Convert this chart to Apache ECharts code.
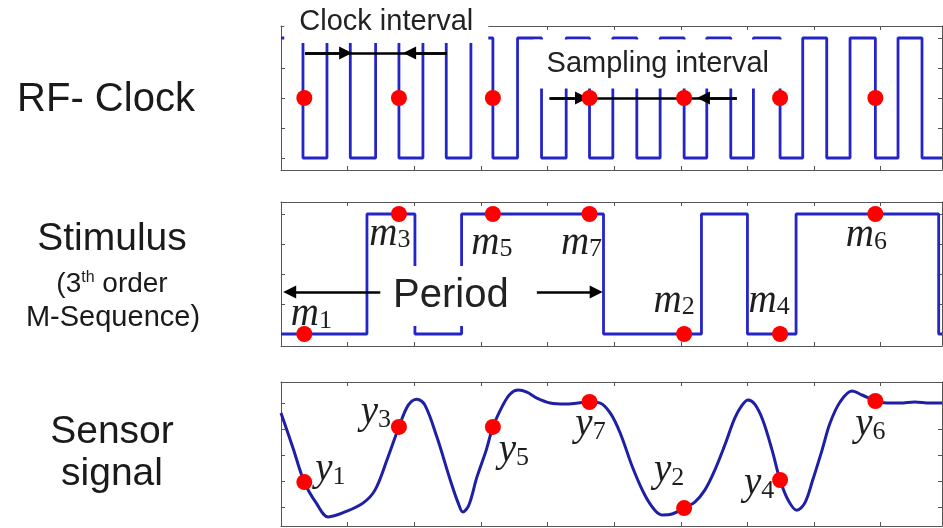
<!DOCTYPE html>
<html lang="en">
<head>
<meta charset="UTF-8">
<title></title>
<script src="https://cdn.jsdelivr.net/npm/echarts@6/dist/echarts.min.js"></script>
<style>
  body { margin: 0; background: #fff; }
  #chart { width: 943px; height: 528px; }
</style>
</head>
<body>
<div id="chart"></div>
<script>
// RF clock: x of each level change, and the level that starts there
var clockX = [0, 0.33, 0.69, 1.04, 1.42, 1.77, 2.13, 2.48, 2.85, 3.18, 3.55, 3.91, 4.28, 4.63, 4.98, 5.34, 5.69, 6.05, 6.39, 6.75, 7.09, 7.49, 7.83, 8.19, 8.54, 8.92, 9.26, 9.62, 9.92];
var clockY = [4, 0, 4, 0, 4, 0, 4, 0, 4, 0, 4, 0, 4, 0, 4, 0, 4, 0, 4, 0, 4, 0, 4, 0, 4, 0, 4, 0, 0];

// stimulus (3rd order m-sequence)
var stimX = [0, 1.29, 2.01, 2.71, 4.84, 6.31, 7.0, 7.73, 9.87, 9.92];
var stimY = [0, 4, 0, 4, 0, 4, 0, 4, 0, 0];

// sensor response
var sensorX = [0, 0.18, 0.35, 0.53, 0.71, 0.96, 1.23, 1.41, 1.59, 1.77, 1.91, 2.04, 2.16, 2.34, 2.54, 2.66, 2.73, 2.82, 2.94, 3.08, 3.18, 3.33, 3.44, 3.56, 3.69, 3.84, 4.04, 4.26, 4.46, 4.63, 4.79, 4.94, 5.09, 5.28, 5.46, 5.61, 5.73, 5.87, 6.05, 6.21, 6.36, 6.51, 6.66, 6.81, 6.92, 7.01, 7.11, 7.23, 7.37, 7.49, 7.61, 7.74, 7.86, 7.98, 8.12, 8.24, 8.39, 8.57, 8.72, 8.92, 9.09, 9.29, 9.51, 9.74, 9.92];
var sensorY = [3.62, 2.27, 0.96, 0.15, -0.38, -0.19, 0.15, 0.65, 1.81, 3.08, 3.92, 4.15, 3.92, 2.69, 1.04, 0.15, -0.19, 0.08, 1.15, 2.19, 3.08, 3.92, 4.35, 4.5, 4.42, 4.19, 4.0, 3.96, 4.0, 4.04, 4.0, 3.62, 2.85, 1.5, 0.46, -0.12, -0.31, -0.27, -0.04, 0.19, 0.65, 1.42, 2.38, 3.42, 3.92, 4.12, 3.96, 3.35, 2.19, 1.04, 0.27, -0.12, 0.15, 1.04, 2.19, 3.23, 4.04, 4.46, 4.31, 4.08, 4.0, 4.0, 4.04, 4.0, 4.0];

// sampling instants
var sampleX = [0.35, 1.77, 3.18, 4.63, 6.05, 7.49, 8.92];
var clockDotY = [2, 2, 2, 2, 2, 2, 2];
var stimDotY = [0, 4, 4, 4, 0, 0, 4];
var stimNames = ['m1', 'm3', 'm5', 'm7', 'm2', 'm4', 'm6'];
var sensorDotY = [0.96, 3.08, 3.08, 4.04, -0.04, 1.04, 4.08];
var sensorNames = ['y1', 'y3', 'y5', 'y7', 'y2', 'y4', 'y6'];

// annotation arrows [x0, x1, y], head at x1
var clockArrows = [[0.36, 0.97, 3.5], [2.49, 1.93, 3.5]];
var clockSpan = [[0.36, 2.49, 3.5]];
var sampleArrows = [[4.03, 4.51, 2], [6.84, 6.34, 2]];
var sampleSpan = [[4.03, 6.84, 2]];
var periodArrows = [[1.49, 0.13, 1.4], [3.84, 4.73, 1.4]];

var xMax = 9.92;
var yTicks = [0, 1, 2, 3, 4];

var blue = '#2424c8';
var darkBlue = '#1f1fa6';
var red = '#ff0000';

function zip(xs, ys) {
  return xs.map(function (x, i) { return [x, ys[i]]; });
}
function segs(list) {
  return list.map(function (s) { return { coords: [[s[0], s[2]], [s[1], s[2]]] }; });
}

var chart = echarts.init(document.getElementById('chart'));

var panels = [
  { top: 26, yMin: -0.4, yMax: 4.4 },
  { top: 202, yMin: -0.4, yMax: 4.4 },
  { top: 382, yMin: -0.73, yMax: 4.81 }
];
var frameLine = { show: true, onZero: false, lineStyle: { color: '#555', width: 1 } };
var tickStyle = { show: true, inside: true, length: 4, lineStyle: { color: '#555' } };

var grid = [], xAxis = [], yAxis = [];
panels.forEach(function (p, i) {
  grid.push({ left: 281, right: 1, top: p.top, height: 144 });
  ['bottom', 'top'].forEach(function (pos) {
    xAxis.push({
      gridIndex: i, type: 'value', position: pos, min: 0, max: xMax, interval: 1,
      axisLine: frameLine, axisTick: tickStyle,
      axisLabel: { show: false }, splitLine: { show: false }
    });
  });
  ['left', 'right'].forEach(function (pos) {
    yAxis.push({
      gridIndex: i, type: 'value', position: pos, min: p.yMin, max: p.yMax,
      axisLine: frameLine,
      axisTick: { show: true, inside: true, length: 4, customValues: yTicks, lineStyle: { color: '#555' } },
      axisLabel: { show: false }, splitLine: { show: false }
    });
  });
});

var mOff = [[7, -19], [-9, 20.5], [-1, 29.5], [-8, 29.5], [-10, -32.5], [-11, -32.5], [-9, 22]];
var yOff = [[26, -12.6], [-23, -14.6], [21, 23.4], [1, 22.4], [-15, -37.6], [-21, 3.4], [-5, 23.4]];

function subRich(lh) {
  return {
    v: { fontFamily: 'Liberation Serif', fontStyle: 'italic', fontSize: 39, lineHeight: lh, color: '#1e1e1e' },
    s: { fontFamily: 'Liberation Serif', fontSize: 26, lineHeight: 2, verticalAlign: 'bottom', color: '#1e1e1e' }
  };
}
function subFormatter(p) {
  return '{v|' + p.name.charAt(0) + '}{s|' + p.name.slice(1) + '}';
}
function labelledDots(ys, names, offs) {
  return sampleX.map(function (x, i) {
    return { value: [x, ys[i]], name: names[i], label: { offset: offs[i] } };
  });
}

var dotStyle = { color: red, opacity: 1 };
var boxItem = { color: '#fff', opacity: 1 };
var boxLabel = {
  show: true, position: 'inside', formatter: '{b}', color: '#222',
  fontFamily: 'Liberation Sans', backgroundColor: '#fff'
};
var textBase = { fill: '#1a1a1a', align: 'center', verticalAlign: 'middle', textAlign: 'center', textVerticalAlign: 'middle' };
function sideText(x, y, text, font) {
  return { type: 'text', x: x, y: y, style: Object.assign({ text: text, font: font }, textBase) };
}

var option = {
  animation: false,
  backgroundColor: '#fff',
  grid: grid,
  xAxis: xAxis,
  yAxis: yAxis,
  graphic: [
    sideText(106, 100, 'RF- Clock', '40px "Liberation Sans"'),
    sideText(112, 239, 'Stimulus', '39px "Liberation Sans"'),
    { type: 'text', x: 112, y: 284, style: Object.assign({
      text: '(3{sup|th} order', fontSize: 28, fontFamily: 'Liberation Sans', lineHeight: 28,
      rich: { sup: { fontSize: 16, fontFamily: 'Liberation Sans', lineHeight: 10, verticalAlign: 'top', fill: '#1a1a1a' } }
    }, textBase) },
    sideText(113, 318, 'M-Sequence)', '29px "Liberation Sans"'),
    sideText(112, 432, 'Sensor', '39px "Liberation Sans"'),
    sideText(112, 474, 'signal', '39px "Liberation Sans"')
  ],
  series: [
    {
      type: 'line', xAxisIndex: 0, yAxisIndex: 0, data: zip(clockX, clockY), step: 'end',
      symbol: 'none', lineStyle: { color: blue, width: 2.8 }, z: 2
    },
    {
      type: 'line', xAxisIndex: 2, yAxisIndex: 2, data: zip(stimX, stimY), step: 'end',
      symbol: 'none', lineStyle: { color: blue, width: 2.8 }, z: 2
    },
    {
      type: 'line', xAxisIndex: 4, yAxisIndex: 4, data: zip(sensorX, sensorY), smooth: 0.35,
      symbol: 'none', lineStyle: { color: darkBlue, width: 3 }, z: 2
    },
    // white boxed captions
    {
      type: 'scatter', xAxisIndex: 0, yAxisIndex: 0, clip: false, z: 5, symbolSize: 1,
      itemStyle: boxItem,
      data: [
        { value: [1.58, 4.55], name: 'Clock interval', label: { padding: [7, 15] } },
        { value: [5.655, 3.13], name: 'Sampling interval', label: { padding: [10, 13] } }
      ],
      label: Object.assign({ fontSize: 29, lineHeight: 29 }, boxLabel)
    },
    {
      type: 'scatter', xAxisIndex: 2, yAxisIndex: 2, clip: false, z: 5, symbolSize: 1,
      itemStyle: boxItem,
      data: [{ value: [2.55, 1.27], name: 'Period' }],
      label: Object.assign({ fontSize: 40, lineHeight: 40, padding: [10, 17] }, boxLabel)
    },
    // arrows
    {
      type: 'lines', coordinateSystem: 'cartesian2d', xAxisIndex: 0, yAxisIndex: 0, z: 7,
      data: segs(clockSpan.concat(sampleSpan)), symbol: ['none', 'none'],
      lineStyle: { color: '#000', width: 2.5, opacity: 1 }
    },
    {
      type: 'lines', coordinateSystem: 'cartesian2d', xAxisIndex: 0, yAxisIndex: 0, z: 7,
      data: segs(clockArrows.concat(sampleArrows)), symbol: ['none', 'triangle'], symbolSize: 13,
      lineStyle: { color: '#000', width: 2.5, opacity: 1 }
    },
    {
      type: 'lines', coordinateSystem: 'cartesian2d', xAxisIndex: 2, yAxisIndex: 2, z: 7,
      data: segs(periodArrows), symbol: ['none', 'triangle'], symbolSize: 13,
      lineStyle: { color: '#000', width: 2.5, opacity: 1 }
    },
    // sample dots
    {
      type: 'scatter', xAxisIndex: 0, yAxisIndex: 0, z: 8, symbolSize: 16,
      data: zip(sampleX, clockDotY), itemStyle: dotStyle
    },
    {
      type: 'scatter', xAxisIndex: 2, yAxisIndex: 2, z: 8, symbolSize: 16, clip: false,
      data: labelledDots(stimDotY, stimNames, mOff), itemStyle: dotStyle,
      label: { show: true, position: 'inside', formatter: subFormatter, rich: subRich(38) }
    },
    {
      type: 'scatter', xAxisIndex: 4, yAxisIndex: 4, z: 8, symbolSize: 16, clip: false,
      data: labelledDots(sensorDotY, sensorNames, yOff), itemStyle: dotStyle,
      label: { show: true, position: 'inside', formatter: subFormatter, rich: subRich(42) }
    }
  ]
};

chart.setOption(option);
</script>
</body>
</html>
